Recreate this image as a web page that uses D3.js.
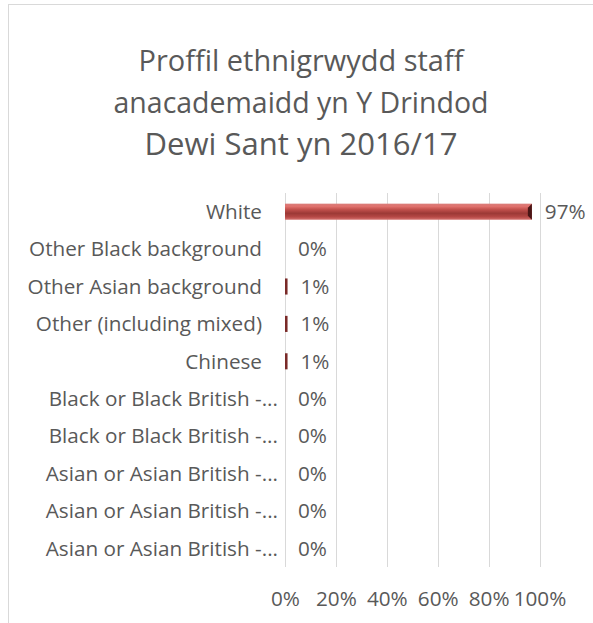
<!DOCTYPE html>
<meta charset="utf-8">
<style>
body { margin: 0; background: #fff; }
svg text { font-family: "Open Sans", Lato, sans-serif; fill: #595959; font-variant-ligatures: none; }
.title text { font-weight: 400; }
.grid line { stroke: #d9d9d9; stroke-width: 1; }
</style>
<svg width="593" height="623"></svg>
<script src="https://cdn.jsdelivr.net/npm/d3@7"></script>
<script>

var titleLines = ["Proffil ethnigrwydd staff", "anacademaidd yn Y Drindod", "Dewi Sant yn 2016/17"];

var categories = [
  "White",
  "Other Black background",
  "Other Asian background",
  "Other (including mixed)",
  "Chinese",
  "Black or Black British -...",
  "Black or Black British -...",
  "Asian or Asian British -...",
  "Asian or Asian British -...",
  "Asian or Asian British -..."
];
var values = [97, 0, 1, 1, 1, 0, 0, 0, 0, 0];
var tickValues = [0, 20, 40, 60, 80, 100];

var svg = d3.select("svg"),
    width = +svg.attr("width"),
    height = +svg.attr("height");

// chart frame (runs off the right / bottom of the picture)
svg.append("rect")
    .attr("x", 8.5).attr("y", 4.5)
    .attr("width", 700).attr("height", 700)
    .attr("fill", "none")
    .attr("stroke", "#d9d9d9");

var defs = svg.append("defs");
var grad = defs.append("linearGradient")
    .attr("id", "bevel")
    .attr("x1", 0).attr("y1", 0).attr("x2", 0).attr("y2", 1);
[["0%", "#d97e7b"], ["18%", "#e0706c"], ["35%", "#c4524e"], ["60%", "#9c3936"], ["82%", "#b54845"], ["100%", "#d5726f"]]
  .forEach(function(s) { grad.append("stop").attr("offset", s[0]).attr("stop-color", s[1]); });

// body font size: fit the longest label to its width in the reference
var probe = svg.append("text").style("font-size", "20px").text(categories[1]);
var fs = 20 * 233 / probe.node().getComputedTextLength();
probe.remove();

// title, each line fitted to its width in the reference
var titleWidths = [325, 375, 313];
var titleBase = [71, 113, 155];
svg.append("g").attr("class", "title").selectAll("text")
    .data(titleLines)
    .enter().append("text")
    .attr("x", 301)
    .attr("y", function(d, i) { return titleBase[i]; })
    .attr("text-anchor", "middle")
    .style("font-size", "28px")
    .text(function(d) { return d; })
    .each(function(d, i) {
      var w = this.getComputedTextLength();
      d3.select(this).style("font-size", (28 * titleWidths[i] / w) + "px");
    });

var x = d3.scaleLinear().domain([0, 100]).range([285, 539.5]);
var y = d3.scaleBand()
    .domain(d3.range(categories.length))
    .range([193, 567])
    .paddingInner(0.57)
    .paddingOuter(0.285);

// gridlines
svg.append("g").attr("class", "grid")
  .selectAll("line")
  .data(tickValues)
  .enter().append("line")
    .attr("x1", function(d) { return Math.round(x(d)) + 0.5; })
    .attr("x2", function(d) { return Math.round(x(d)) + 0.5; })
    .attr("y1", 193).attr("y2", 567);

// x axis labels
var xAxis = d3.axisBottom(x)
    .tickValues(tickValues)
    .tickSize(0)
    .tickPadding(0)
    .tickFormat(function(d) { return d + "%"; });
var gx = svg.append("g")
    .attr("transform", "translate(0,606)")
    .call(xAxis);
gx.select(".domain").remove();
gx.attr("font-family", null).attr("font-size", null);
gx.selectAll("text")
    .attr("dy", "0")
    .attr("y", 0)
    .style("font-size", fs + "px")
    .attr("fill", "#595959");

// category labels
svg.append("g").selectAll("text")
    .data(categories)
    .enter().append("text")
    .attr("x", function(d) { return /\.\.\.$/.test(d) ? 278 : 262; })
    .attr("y", function(d, i) { return y(i) + y.bandwidth() / 2; })
    .attr("dy", "0.35em")
    .attr("text-anchor", "end")
    .style("font-size", fs + "px")
    .text(function(d) { return d; });

// bars
var bars = svg.append("g").selectAll("g")
    .data(values)
    .enter().append("g");

bars.append("rect")
    .attr("x", x(0))
    .attr("y", function(d, i) { return y(i); })
    .attr("width", function(d) { return x(d) - x(0); })
    .attr("height", y.bandwidth())
    .attr("fill", function(d) { return d > 2 ? "url(#bevel)" : "#7a2a28"; });

// bevel end cap on wide bars
bars.filter(function(d) { return d > 2; })
  .append("path")
    .attr("fill", "#4a1515")
    .attr("d", function(d) {
      var x1 = x(d), y0 = y(values.indexOf(d)), h = y.bandwidth();
      return "M" + (x1 - 4) + "," + (y0 + 4) + "L" + x1 + "," + y0 +
             "L" + x1 + "," + (y0 + h) + "L" + (x1 - 4) + "," + (y0 + h - 4) + "Z";
    });

// value labels
svg.append("g").selectAll("text")
    .data(values)
    .enter().append("text")
    .attr("x", function(d) { return x(d) + 13; })
    .attr("y", function(d, i) { return y(i) + y.bandwidth() / 2; })
    .attr("dy", "0.35em")
    .style("font-size", fs + "px")
    .text(function(d) { return d + "%"; });

</script>
